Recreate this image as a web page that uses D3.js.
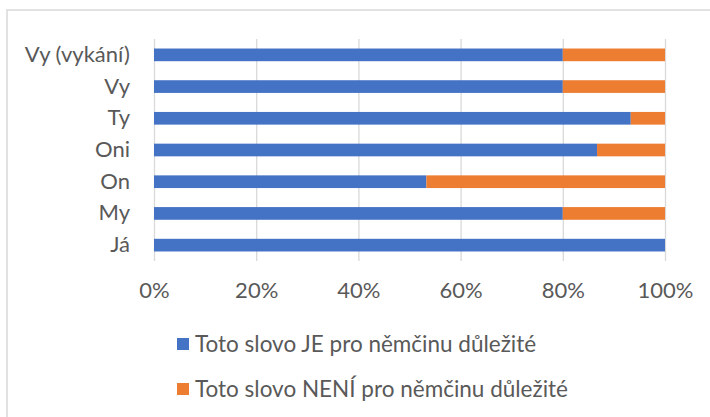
<!DOCTYPE html>
<html>
<head>
<meta charset="utf-8">
<script src="https://cdn.jsdelivr.net/npm/d3@7"></script>
<style>
  body { margin: 0; background: #fff; }
  svg text { font-family: Lato, "Open Sans", sans-serif; fill: #595959; }
</style>
</head>
<body>
<svg id="chart" width="710" height="417"></svg>
<script>
// categories top to bottom, as in the picture
var categories = ["Vy (vykání)", "Vy", "Ty", "Oni", "On", "My", "Já"];
// share of answers in percent
var jeValues   = [80, 80, 93.3, 86.7, 53.3, 80, 100];
var neniValues = [20, 20, 6.7, 13.3, 46.7, 20, 0];
var seriesNames = ["Toto slovo JE pro němčinu důležité", "Toto slovo NENÍ pro němčinu důležité"];
var seriesColors = ["#4472C4", "#ED7D31"];
var xTicks = [0, 20, 40, 60, 80, 100];

var svg = d3.select("#chart");

// chart frame (only top and left edges are inside the picture)
svg.append("rect")
    .attr("x", 7).attr("y", 10)
    .attr("width", 760).attr("height", 460)
    .attr("fill", "none")
    .attr("stroke", "#d9d9d9")
    .attr("stroke-width", 1.5);

var xScale = d3.scaleLinear().domain([0, 100]).range([154, 665]);
var yScale = d3.scaleBand().domain(categories).range([39, 261])
    .paddingInner(0.6).paddingOuter(0.3);

// gridlines + tick labels
var xAxis = d3.axisBottom(xScale)
    .tickValues(xTicks)
    .tickSize(-222)
    .tickFormat(function(d){ return d + "%"; });

var gx = svg.append("g")
    .attr("transform", "translate(0,261)")
    .call(xAxis);
gx.select(".domain").remove();
gx.selectAll("line").attr("stroke", "#d9d9d9").attr("stroke-width", 1.3);
gx.selectAll("text")
    .attr("y", 37).attr("dy", 0)
    .style("font-size", "22px")
    .attr("fill", "#595959");

// stacked bars
var rows = categories.map(function(c, i){
    return { cat: c, je: jeValues[i], neni: neniValues[i] };
});

var g = svg.append("g");
g.selectAll("rect.je")
    .data(rows)
    .enter().append("rect")
    .attr("class", "je")
    .attr("x", xScale(0))
    .attr("y", function(d){ return yScale(d.cat); })
    .attr("width", function(d){ return xScale(d.je) - xScale(0); })
    .attr("height", yScale.bandwidth())
    .attr("fill", seriesColors[0]);

g.selectAll("rect.neni")
    .data(rows)
    .enter().append("rect")
    .attr("class", "neni")
    .attr("x", function(d){ return xScale(d.je); })
    .attr("y", function(d){ return yScale(d.cat); })
    .attr("width", function(d){ return xScale(d.je + d.neni) - xScale(d.je); })
    .attr("height", yScale.bandwidth())
    .attr("fill", seriesColors[1]);

// category labels
var yAxis = d3.axisLeft(yScale).tickSize(0).tickPadding(24);
var gy = svg.append("g")
    .attr("transform", "translate(154,0)")
    .call(yAxis);
gy.select(".domain").remove();
gy.selectAll("text")
    .style("font-size", "22px")
    .attr("fill", "#595959");

// legend
var legend = svg.append("g").selectAll("g")
    .data(seriesNames)
    .enter().append("g")
    .attr("transform", function(d, i){ return "translate(177," + (338 + i * 45) + ")"; });

legend.append("rect")
    .attr("width", 12).attr("height", 12)
    .attr("fill", function(d, i){ return seriesColors[i]; });

legend.append("text")
    .attr("x", 18).attr("y", 14)
    .style("font-size", "22.5px")
    .text(function(d){ return d; });
</script>
</body>
</html>
